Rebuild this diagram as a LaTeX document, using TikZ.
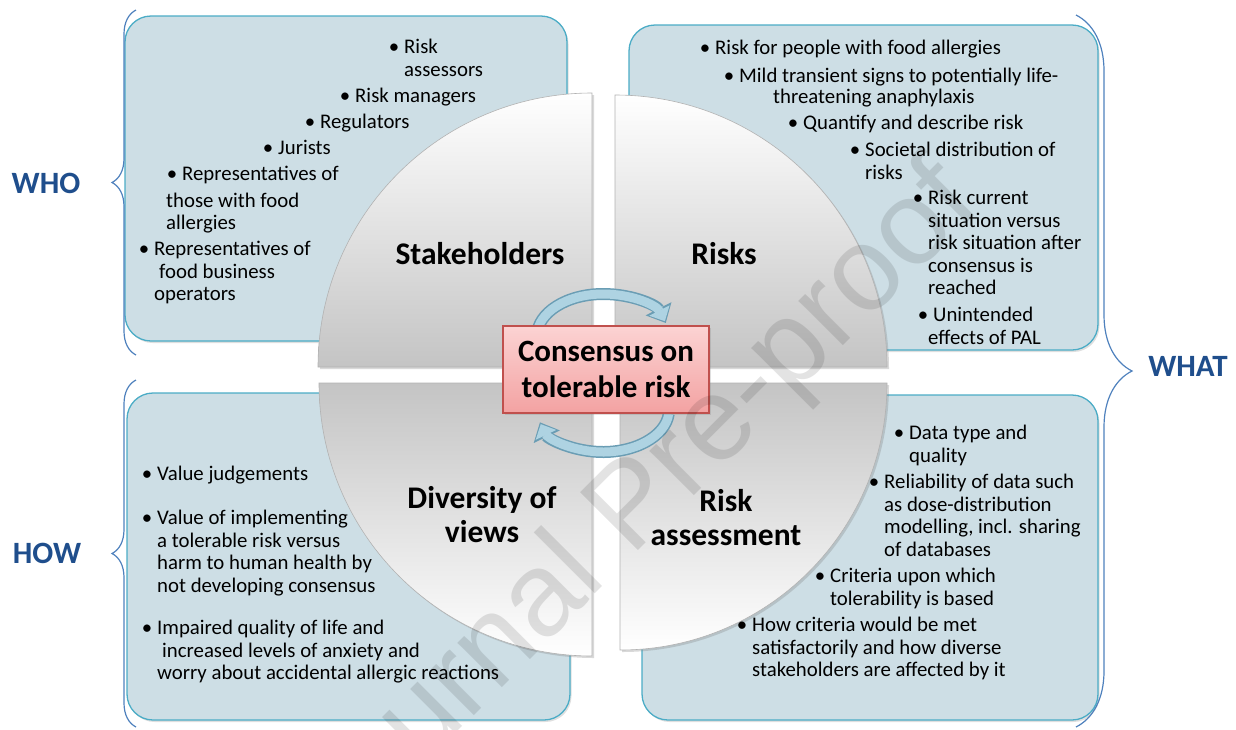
\documentclass[tikz,border=0pt]{standalone}
\usepackage{fontspec}
\setmainfont{Carlito}
\newfontfamily\wmfont{Liberation Sans}
\usetikzlibrary{arrows.meta,decorations.pathreplacing,shadows}
\definecolor{panelfill}{HTML}{CDDEE5}
\definecolor{paneldraw}{HTML}{4BACC6}
\definecolor{quartergrey}{HTML}{C4C4C4}
\definecolor{hubtop}{HTML}{FCD3D3}
\definecolor{hubbottom}{HTML}{F3A2A2}
\definecolor{hubdraw}{HTML}{C0504D}
\definecolor{loopfill}{HTML}{AED3E2}
\definecolor{loopdraw}{HTML}{6A9DB4}
\definecolor{bracecol}{HTML}{4F81BD}
\definecolor{sidecol}{HTML}{1F4E8C}
\newcommand{\bul}{\llap{\textbullet\hspace{5pt}}}

\begin{document}
\begin{tikzpicture}[x=1pt, y=-1pt,
    panel/.style={draw=paneldraw, line width=1.3pt, fill=panelfill, rounded corners=26pt,
                  drop shadow={opacity=.25, shadow xshift=1.5pt, shadow yshift=-2pt}},
    quarter/.style={draw=gray!60, line width=.6pt,
                    drop shadow={opacity=.3, shadow xshift=2pt, shadow yshift=-2pt}},
    item/.style={anchor=north west, inner sep=0pt, align=left,
                 font=\fontsize{20.8}{22.5}\selectfont},
    heading/.style={inner sep=0pt, align=center, font=\bfseries\fontsize{31.5}{34}\selectfont},
    hub/.style={draw=hubdraw, line width=1.2pt, top color=hubtop, bottom color=hubbottom,
                minimum width=206pt, minimum height=87pt, align=center,
                font=\bfseries\fontsize{31}{36}\selectfont, drop shadow={opacity=.25}},
    side/.style={text=sidecol, font=\bfseries\fontsize{31}{36}\selectfont},
    brc/.style={draw=bracecol, line width=1.2pt, decorate, decoration={brace, amplitude=#1}},
    loopedge/.style={draw=loopdraw, line width=12pt, -{Triangle[length=16pt,width=28pt]}},
    loopbody/.style={draw=loopfill, line width=9pt, shorten >=2pt, -{Triangle[length=12pt,width=22pt]}},
    wm/.style={rotate=45, text=black, text opacity=.11, font=\wmfont\fontsize{119}{119}\selectfont}
  ]
  \useasboundingbox (0,0) rectangle (1236,729);

  % four panels
  \draw[panel] (125,16) rectangle (567,341);
  \draw[panel] (629,25) rectangle (1098,350);
  \draw[panel] (127,393) rectangle (570,720);
  \draw[panel] (642,395) rectangle (1098,720);

  % quarter discs
  \path[quarter, top color=white, bottom color=quartergrey]
    (592,367) -- (318,367) arc[start angle=180, end angle=270, radius=274] -- cycle;
  \path[quarter, top color=white, bottom color=quartergrey]
    (615,367) -- (887,367) arc[start angle=0, end angle=-90, radius=272] -- cycle;
  \path[quarter, top color=quartergrey, bottom color=white]
    (592,383) -- (319,383) arc[start angle=180, end angle=90, radius=273] -- cycle;
  \path[quarter, top color=quartergrey, bottom color=white]
    (620,383) -- (887,383) arc[start angle=0, end angle=90, radius=267] -- cycle;

  \node[heading] (stake) at (480,254) {Stakeholders};
  \node[heading] (risks) at (724,254) {Risks};
  \node[heading] (views) at (482,515) {Diversity of\\views};
  \node[heading] (assess) at (726,518) {Risk\\assessment};

  % who
  \node[item] (s1) at (404,39) {\bul Risk\\assessors};
  \node[item] (s2) at (355,88) {\bul Risk managers};
  \node[item] (s3) at (320,114) {\bul Regulators};
  \node[item] (s4) at (278,140) {\bul Jurists};
  \node[item] (s5) at (166,166) {\hspace*{16pt}\bul Representatives of\\[4pt]those with food\\allergies};
  \node[item] (s6) at (154,241) {\bul Representatives of\\\hspace*{5pt}food business\\operators};

  % what: risks
  \node[item] (r1) at (715,40) {\bul Risk for people with food allergies};
  \node[item] (r2) at (739,68) {\bul Mild transient signs to potentially life-\\[-2pt]\hspace*{34pt}threatening anaphylaxis};
  \node[item] (r3) at (803,115) {\bul Quantify and describe risk};
  \node[item] (r4) at (865,142) {\bul Societal distribution of\\risks};
  \node[item] (r5) at (928,190) {\bul Risk current\\situation versus\\risk situation after\\consensus is\\reached};
  \node[item] (r6) at (928,307) {\hspace*{5pt}\bul Unintended\\effects of PAL};

  % how
  \node[item] (v1) at (157,466) {\bul Value judgements};
  \node[item] (v2) at (157,510) {\bul Value of implementing\\a tolerable risk versus\\harm to human health by\\not developing consensus};
  \node[item] (v3) at (157,620) {\bul Impaired quality of life and\\\hspace*{5pt}increased levels of anxiety and\\worry about accidental allergic reactions};

  % what: assessment
  \node[item] (a1) at (909,425) {\bul Data type and\\quality};
  \node[item] (a2) at (884,474) {\bul Reliability of data such\\as dose-distribution\\modelling, incl. sharing\\of databases};
  \node[item] (a3) at (830,568) {\bul Criteria upon which\\tolerability is based};
  \node[item] (a4) at (752,617) {\bul How criteria would be met\\satisfactorily and how diverse\\stakeholders are affected by it};

  % loop arrows round the centre
  \coordinate (upc) at (603,336);
  \coordinate (loc) at (603,410);
  \draw[loopedge] ([shift={(175:66 and 42)}]upc) arc[start angle=175, end angle=342, x radius=66, y radius=42];
  \draw[loopbody] ([shift={(175:66 and 42)}]upc) arc[start angle=175, end angle=342, x radius=66, y radius=42];
  \draw[loopedge] ([shift={(5:66 and 42)}]loc) arc[start angle=5, end angle=163, x radius=66, y radius=42];
  \draw[loopbody] ([shift={(5:66 and 42)}]loc) arc[start angle=5, end angle=163, x radius=66, y radius=42];

  \node[hub] (core) at (606,369.5) {Consensus on\\tolerable risk};

  % braces and side labels
  \coordinate (whob) at (136,355);
  \coordinate (whot) at (136,10);
  \coordinate (howb) at (136,727);
  \coordinate (howt) at (136,380);
  \coordinate (whatt) at (1076,15);
  \coordinate (whatb) at (1076,727);
  \draw[brc=24] (whob) -- (whot);
  \draw[brc=24] (howb) -- (howt);
  \draw[brc=56] (whatt) -- (whatb);
  \node[side] (who) at (46,183) {WHO};
  \node[side] (how) at (47,553) {HOW};
  \node[side] (what) at (1188,366) {WHAT};

  \node[wm] (mark) at (636,510) {Journal Pre-proof};
\end{tikzpicture}
\end{document}
